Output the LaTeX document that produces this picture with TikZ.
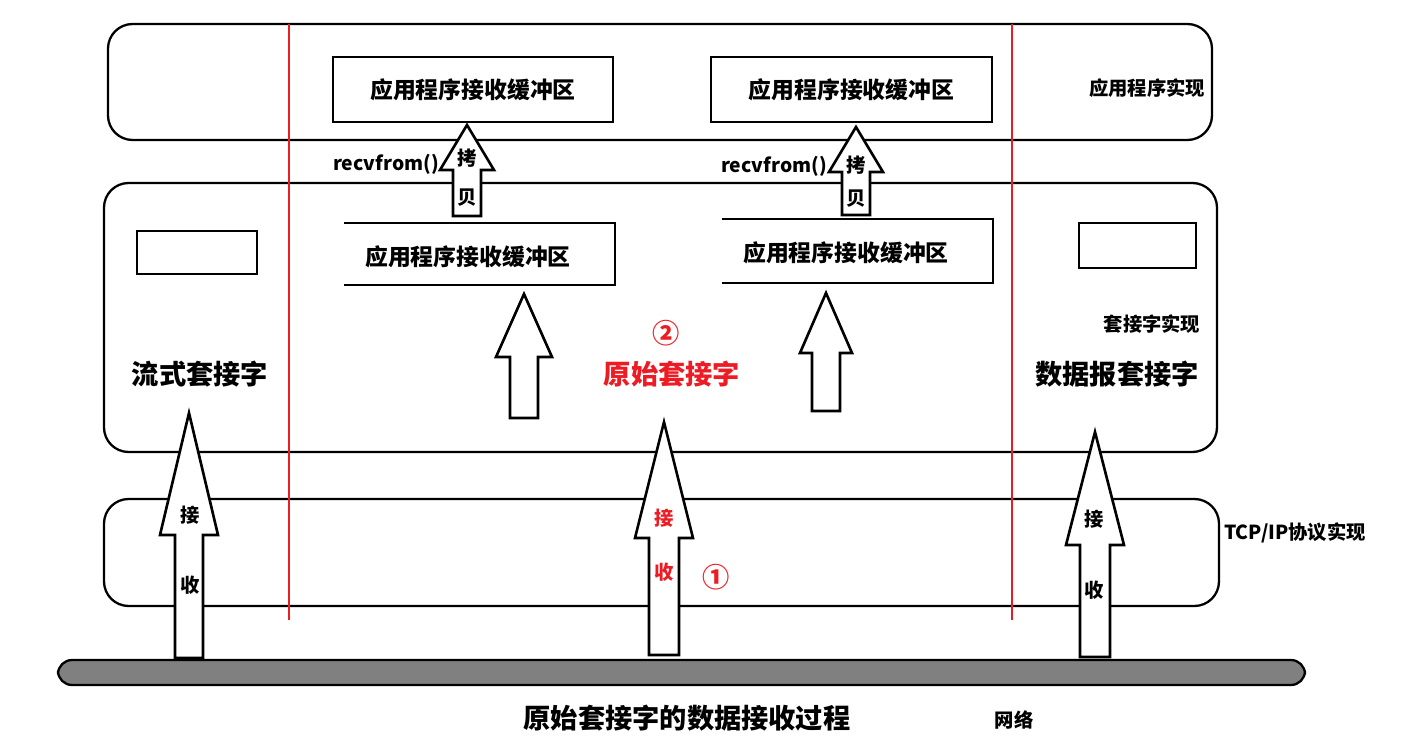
\documentclass[tikz,border=0pt]{standalone}
\usepackage{fontspec}
\setmainfont{Noto Sans CJK SC}
\definecolor{myred}{RGB}{237,28,36}
\newcommand\blockup[6]{% x, tip y, base y, bottom y, head half, shaft half
  \draw[arr] (#1,#2) -- (#1+#5,#3) -- (#1+#6,#3) -- (#1+#6,#4) -- (#1-#6,#4) -- (#1-#6,#3) -- (#1-#5,#3) -- cycle;}
\begin{document}
\begin{tikzpicture}[x=0.02cm,y=-0.02cm,
  layer/.style={draw,line width=1.3pt,rounded corners=14pt},
  buf/.style={draw,line width=1.5pt},
  arr/.style={draw,line width=1.5pt,fill=white,line join=miter},
  red line/.style={draw=myred,line width=1.2pt},
  t/.style={font=\bfseries\fontsize{13}{13}\selectfont,inner sep=0pt},
  big/.style={font=\bfseries\fontsize{15.5}{15.5}\selectfont,inner sep=0pt},
  small/.style={font=\bfseries\fontsize{11}{11}\selectfont,inner sep=0pt}]
\useasboundingbox (0,0) rectangle (1401,756);
% layers
\draw[layer] (108,24) rectangle (1212,140);
\draw[layer] (104,183) rectangle (1217,452);
\draw[layer] (104,499) rectangle (1219,606);
\draw[draw,line width=1.3pt,fill=black!50,rounded corners=8pt] (58,660) rectangle (1305,685);
% red lines
\draw[red line] (289,24) -- (289,620);
\draw[red line] (1012,24) -- (1012,620);
% top buffers
\node[buf,t,minimum width=280*0.02cm,minimum height=65*0.02cm] (tb1) at (473,89.5) {应用程序接收缓冲区};
\node[buf,t,minimum width=281*0.02cm,minimum height=65*0.02cm] (tb2) at (851.5,89.5) {应用程序接收缓冲区};
% socket buffers (open left)
\draw[buf] (344,223) -- (615,223) -- (615,285) -- (344,285);
\node[t] (sb1) at (468,257) {应用程序接收缓冲区};
\draw[buf] (722,219) -- (993,219) -- (993,283) -- (722,283);
\node[t] (sb2) at (846,253) {应用程序接收缓冲区};
% small boxes
\draw[line width=1.3pt] (137,231) rectangle (257,274);
\draw[line width=1.3pt] (1079,223) rectangle (1196,268);
% arrows
\blockup{467}{125}{170}{216}{27}{14}
\blockup{856}{127}{172}{215}{27}{14}
\blockup{524}{294}{357}{418}{28}{14}
\blockup{826}{293}{353}{411}{26}{14}
\blockup{189}{413}{535}{658}{29}{14}
\blockup{664}{422}{538}{655}{29}{15}
\blockup{1095}{432}{545}{657}{29}{15}
% arrow labels
\node[small] (c1) at (467,158) {拷};
\node[small] (c2) at (467,198) {贝};
\node[small] (c3) at (856,165) {拷};
\node[small] (c4) at (856,199) {贝};
\node[small] (r1) at (190,515) {接};
\node[small] (r2) at (190,585) {收};
\node[small,text=myred] (r3) at (664,518) {接};
\node[small,text=myred] (r4) at (664,572) {收};
\node[small] (r5) at (1094,519) {接};
\node[small] (r6) at (1094,590) {收};
% labels
\node[small] (rf1) at (386,164) {recvfrom()};
\node[small] (rf2) at (774,166) {recvfrom()};
\node[small] (l1) at (1147,88) {应用程序实现};
\node[small] (l2) at (1152,324) {套接字实现};
\node[small] (l3) at (1295,533) {TCP/IP协议实现};
\node[small] (l4) at (1014,720) {网络};
\node[big] (s1) at (200,374) {流式套接字};
\node[big,text=myred] (s2) at (672,374) {原始套接字};
\node[big] (s3) at (1117,374) {数据报套接字};
\node[big,text=myred] (n2) at (666,333) {②};
\node[big,text=myred] (n1) at (716,577) {①};
\node[big] (title) at (687,718) {原始套接字的数据接收过程};
\end{tikzpicture}
\end{document}
